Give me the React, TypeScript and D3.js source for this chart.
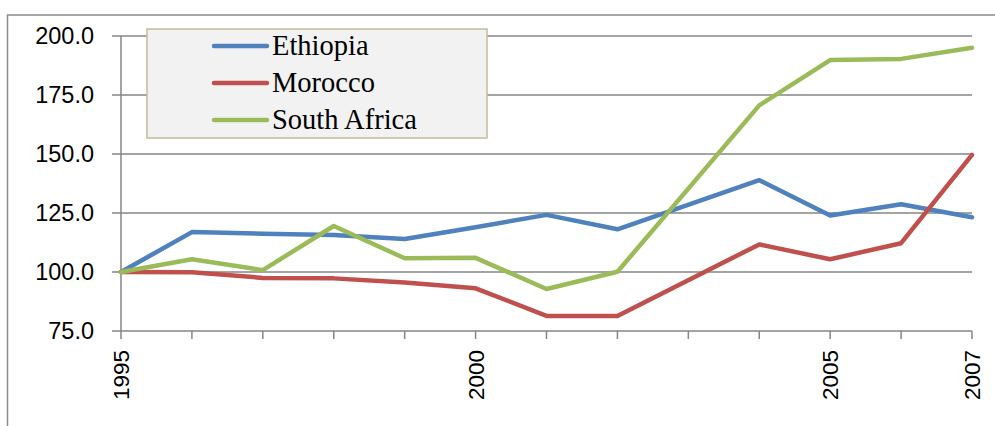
import React from "react";
import * as d3 from "d3";

// Index values (1995 = 100); 2003 has no observation and is bridged by the line.
const years = [1995, 1996, 1997, 1998, 1999, 2000, 2001, 2002, 2003, 2004, 2005, 2006, 2007];
const ethiopia = [100, 116.9, 116.2, 115.7, 114.0, 119.0, 124.2, 118.1, null, 138.9, 123.9, 128.7, 123.2];
const morocco = [100, 99.9, 97.5, 97.3, 95.6, 93.1, 81.4, 81.4, null, 111.7, 105.4, 112.2, 149.6];
const southAfrica = [100, 105.4, 100.8, 119.5, 105.8, 106.0, 92.8, 100.1, null, 170.6, 189.8, 190.3, 195.0];

const yTicks = [75, 100, 125, 150, 175, 200];
const xLabels = [1995, 2000, 2005, 2007];

const seriesNames = ["Ethiopia", "Morocco", "South Africa"];
const seriesColors = ["#4f81bd", "#c0504d", "#9bbb59"];
const seriesValues = [ethiopia, morocco, southAfrica];

const W = 995;
const H = 426;
const plot = { left: 121, right: 972, top: 36, bottom: 331 };
const gridColor = "#868686";
const axisFont = "'Liberation Sans', Arial, sans-serif";
const legendFont = "'Liberation Serif', 'Times New Roman', serif";

export default function App() {
  const x = d3.scaleLinear().domain([1995, 2007]).range([plot.left, plot.right]);
  const y = d3.scaleLinear().domain([75, 200]).range([plot.bottom, plot.top]);

  const line = d3
    .line<{ year: number; v: number }>()
    .x((d) => x(d.year))
    .y((d) => y(d.v));

  const series = seriesNames.map((name, i) => ({
    name,
    color: seriesColors[i],
    points: years
      .map((year, j) => ({ year, v: seriesValues[i][j] as number | null }))
      .filter((d) => d.v != null) as { year: number; v: number }[],
  }));

  const legend = { x: 147, y: 29, w: 340, h: 109, rowY: [46, 83, 120] };

  return (
    <svg
      width={W}
      height={H}
      style={{ position: "absolute", left: 0, top: 0, background: "#fff" }}
    >
      {/* chart frame */}
      <rect x={7.5} y={15} width={W + 20} height={H + 20} fill="#fff" stroke="#8c8c8c" strokeWidth={1.5} />

      {/* horizontal gridlines and y tick marks */}
      {yTicks.map((t) => (
        <g key={t}>
          <line x1={plot.left - 9} x2={plot.right} y1={y(t)} y2={y(t)} stroke={gridColor} strokeWidth={1.5} />
          <text
            x={94}
            y={y(t)}
            dy="0.36em"
            textAnchor="end"
            fontFamily={axisFont}
            fontSize={23.5}
            fill="#000"
          >
            {t.toFixed(1)}
          </text>
        </g>
      ))}

      {/* y axis line */}
      <line x1={plot.left} x2={plot.left} y1={plot.top} y2={plot.bottom} stroke={gridColor} strokeWidth={1.5} />

      {/* x tick marks */}
      {years.map((yr) => (
        <line key={yr} x1={x(yr)} x2={x(yr)} y1={plot.bottom} y2={plot.bottom + 8} stroke={gridColor} strokeWidth={1.5} />
      ))}

      {/* x labels, rotated */}
      {xLabels.map((yr) => (
        <text
          key={yr}
          transform={`translate(${x(yr)},${plot.bottom + 19}) rotate(-90)`}
          textAnchor="end"
          dy="0.36em"
          fontFamily={axisFont}
          fontSize={22.5}
          fill="#000"
        >
          {yr}
        </text>
      ))}

      {/* data lines */}
      {series.map((s) => (
        <path
          key={s.name}
          d={line(s.points) || ""}
          fill="none"
          stroke={s.color}
          strokeWidth={4.5}
          strokeLinejoin="round"
          strokeLinecap="round"
        />
      ))}

      {/* legend */}
      <rect
        x={legend.x}
        y={legend.y}
        width={legend.w}
        height={legend.h}
        fill="#f2f2f2"
        stroke="#c4bd97"
        strokeWidth={1.5}
      />
      {series.map((s, i) => (
        <g key={s.name}>
          <line
            x1={214}
            x2={267}
            y1={legend.rowY[i]}
            y2={legend.rowY[i]}
            stroke={s.color}
            strokeWidth={4.5}
            strokeLinecap="round"
          />
          <text
            x={272}
            y={legend.rowY[i]}
            dy="0.33em"
            fontFamily={legendFont}
            fontSize={28.5}
            fill="#000"
          >
            {s.name}
          </text>
        </g>
      ))}
    </svg>
  );
}
